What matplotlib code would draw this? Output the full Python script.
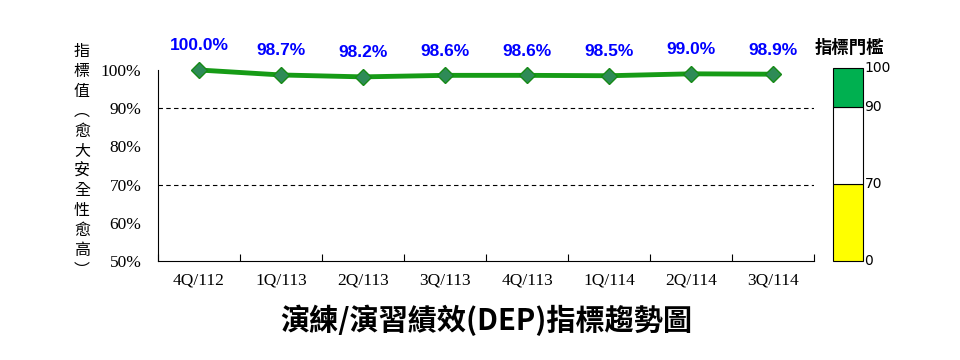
import matplotlib.pyplot as plt
import numpy as np

quarters = ["4Q/112", "1Q/113", "2Q/113", "3Q/113", "4Q/113", "1Q/114", "2Q/114", "3Q/114"]
values = [100.0, 98.7, 98.2, 98.6, 98.6, 98.5, 99.0, 98.9]
y_ticks = [50, 60, 70, 80, 90, 100]
ref_lines = [70, 90]
gauge_bounds = [50, 70, 90, 100]
gauge_colors = ["#ffff00", "#ffffff", "#00b050"]
gauge_labels = ["0", "70", "90", "100"]

title = "演練/演習績效(DEP)指標趨勢圖"
ylabel = "指標值︵愈大安全性愈高︶"

cjk = ["Noto Sans CJK TC", "DejaVu Sans"]

fig = plt.figure(figsize=(9.6, 3.6), dpi=100)

# main chart
ax = fig.add_axes([158 / 960, 1 - 261 / 360, 656 / 960, 191 / 360])
x = np.arange(len(quarters))
ax.plot(x, values, color="#169b16", linewidth=3.5, marker="D", markersize=8,
        markerfacecolor="#2e8b57", markeredgecolor="#168a16", clip_on=False, zorder=3)
for xi, v in zip(x, values):
    ax.annotate(f"{v:.1f}%", (xi, v), xytext=(0, 12), textcoords="offset points",
                ha="center", va="bottom", color="#0000ff", fontsize=12.5, fontweight="bold",
                family="Liberation Sans", annotation_clip=False)
for r in ref_lines:
    ax.axhline(r, color="black", linestyle=(0, (4, 3)), linewidth=0.8)

ax.set_xlim(-0.5, len(quarters) - 0.5)
ax.set_ylim(50, 100)
ax.set_yticks(y_ticks)
ax.set_yticklabels([f"{t}%" for t in y_ticks], family="Liberation Serif", fontsize=12.5)
ax.set_xticks(x)
ax.set_xticklabels(quarters, family="Liberation Serif", fontsize=12.5)
ax.set_xticks(np.arange(len(quarters) + 1) - 0.5, minor=True)
ax.tick_params(axis="x", which="major", length=0, pad=8)
ax.tick_params(axis="x", which="minor", direction="in", length=5, width=0.8)
ax.tick_params(axis="y", length=0, pad=12)
for s in ["top", "right"]:
    ax.spines[s].set_visible(False)

fig.text(82 / 960, 1 - 161 / 360, "\n".join(ylabel), ha="center", va="center",
         family=cjk, fontsize=11.5, linespacing=1.22)

fig.text(486 / 960, 1 - 320 / 360, title, ha="center", va="center",
         family=cjk, fontsize=21, fontweight="bold")

# threshold gauge
gx = fig.add_axes([833 / 960, 1 - 261 / 360, 30 / 960, 193 / 360])
for lo, hi, c in zip(gauge_bounds[:-1], gauge_bounds[1:], gauge_colors):
    gx.bar(0, hi - lo, bottom=lo, width=1, color=c, edgecolor="black", linewidth=0.8,
           clip_on=False)
gx.set_xlim(-0.5, 0.5)
gx.set_ylim(50, 100)
gx.axis("off")
for b, lab in zip(gauge_bounds, gauge_labels):
    gx.text(0.55, b, lab, ha="left", va="center", fontsize=10, family="DejaVu Sans")
fig.text(849 / 960, 1 - 48 / 360, "指標門檻", ha="center", va="center",
         family=cjk, fontsize=12.5, fontweight="bold")

fig.savefig("out.png", dpi=100)
